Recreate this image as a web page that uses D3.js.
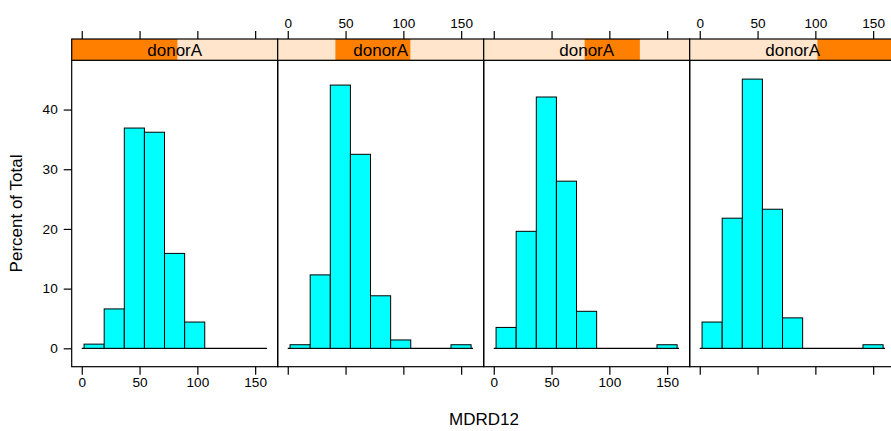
<!DOCTYPE html>
<html>
<head>
<meta charset="utf-8">
<script src="https://cdn.jsdelivr.net/npm/d3@7"></script>
<style>
  body { margin: 0; background: #fff; }
  text { font-family: "Liberation Sans", Arial, sans-serif; fill: #000; }
</style>
</head>
<body>
<div id="chart"></div>
<script>
// histogram bin edges (MDRD12)
const breaks = [2.0, 19.4, 36.8, 54.2, 71.6, 89.0, 106.4, 123.8, 141.2, 158.6];
const baseRange = [0, 160.3];

// percent of total per bin, one array per panel
const pctP1 = [0.7, 6.6, 36.9, 36.2, 15.9, 4.4, 0, 0, 0];
const pctP2 = [0.6, 12.3, 44.1, 32.5, 8.8, 1.4, 0, 0, 0.6];
const pctP3 = [3.5, 19.6, 42.1, 28.0, 6.2, 0, 0, 0, 0.6];
const pctP4 = [4.4, 21.8, 45.1, 23.3, 5.1, 0, 0, 0, 0.6];
const panels = [pctP1, pctP2, pctP3, pctP4];

// shingle intervals of donorA (fraction of its overall range)
const donorLo = [0.0, 0.28, 0.49, 0.62];
const donorHi = [0.513, 0.644, 0.758, 1.0];

const xTicks = [0, 50, 100, 150];
const yTicks = [0, 10, 20, 30, 40];

let W = 891, H = 431;
let left0 = 71.7, pw = 206;
let stripTop = 39, panelTop = 60.3, panelBot = 366.7;

let svg = d3.select('#chart').append('svg')
    .attr('width', W)
    .attr('height', H);

let y = d3.scaleLinear()
    .domain([-3.08, 48.25])
    .range([panelBot, panelTop]);

panels.forEach(function (pct, i) {
  let l = left0 + i * pw;
  let x = d3.scaleLinear()
      .domain([-8.7, 169.5])
      .range([l, l + pw]);
  let g = svg.append('g');

  // baseline
  g.append('line')
      .attr('x1', x(baseRange[0]))
      .attr('x2', x(baseRange[1]))
      .attr('y1', y(0))
      .attr('y2', y(0))
      .attr('stroke', '#000')
      .attr('stroke-width', 1.2);

  // bars
  g.selectAll('rect.bar')
      .data(pct.map(function (p, j) { return {p: p, a: breaks[j], b: breaks[j + 1]}; })
        .filter(function (d) { return d.p > 0; }))
      .enter()
      .append('rect')
      .attr('class', 'bar')
      .attr('x', function (d) { return x(d.a); })
      .attr('width', function (d) { return x(d.b) - x(d.a); })
      .attr('y', function (d) { return y(d.p); })
      .attr('height', function (d) { return y(0) - y(d.p); })
      .attr('fill', '#00FFFF')
      .attr('stroke', '#000')
      .attr('stroke-width', 1);

  // panel frame
  g.append('rect')
      .attr('x', l)
      .attr('y', panelTop)
      .attr('width', pw)
      .attr('height', panelBot - panelTop)
      .attr('fill', 'none')
      .attr('stroke', '#000')
      .attr('stroke-width', 1.2);

  // strip
  let s = d3.scaleLinear().domain([0, 1]).range([l, l + pw]);
  g.append('rect')
      .attr('x', l).attr('y', stripTop)
      .attr('width', pw).attr('height', panelTop - stripTop)
      .attr('fill', '#FFE5CC');
  g.append('rect')
      .attr('x', s(donorLo[i])).attr('y', stripTop)
      .attr('width', s(donorHi[i]) - s(donorLo[i])).attr('height', panelTop - stripTop)
      .attr('fill', '#FF7F00');
  g.append('text')
      .attr('x', l + pw / 2)
      .attr('y', 55.5)
      .attr('text-anchor', 'middle')
      .style('font-size', '17px')
      .text('donorA');
  g.append('rect')
      .attr('x', l).attr('y', stripTop)
      .attr('width', pw).attr('height', panelTop - stripTop)
      .attr('fill', 'none')
      .attr('stroke', '#000')
      .attr('stroke-width', 1.2);

  // axes: labels alternate bottom / top
  let bottom = d3.axisBottom(x).tickValues(xTicks).tickSize(8).tickPadding(3);
  let top = d3.axisTop(x).tickValues(xTicks).tickSize(8).tickPadding(3);
  if (i % 2 == 0) top.tickFormat(''); else bottom.tickFormat('');

  let gb = g.append('g')
      .attr('transform', 'translate(0,' + panelBot + ')')
      .call(bottom);
  let gt = g.append('g')
      .attr('transform', 'translate(0,' + stripTop + ')')
      .call(top);
  [gb, gt].forEach(function (a) {
    a.select('.domain').remove();
    a.selectAll('line').attr('stroke', '#000').attr('stroke-width', 1.2);
    a.selectAll('text').style('font-size', '13.6px').attr('fill', '#000');
  });
});

// left y axis
let ga = svg.append('g')
    .attr('transform', 'translate(' + left0 + ',0)')
    .call(d3.axisLeft(y).tickValues(yTicks).tickSize(8).tickPadding(6));
ga.select('.domain').remove();
ga.selectAll('line').attr('stroke', '#000').attr('stroke-width', 1.2);
ga.selectAll('text').style('font-size', '13.6px').attr('fill', '#000');

svg.append('text')
    .attr('transform', 'translate(22,' + ((panelTop + panelBot) / 2) + ') rotate(-90)')
    .attr('text-anchor', 'middle')
    .style('font-size', '17px')
    .text('Percent of Total');

svg.append('text')
    .attr('x', 484)
    .attr('y', 425)
    .attr('text-anchor', 'middle')
    .style('font-size', '17px')
    .text('MDRD12');
</script>
</body>
</html>
